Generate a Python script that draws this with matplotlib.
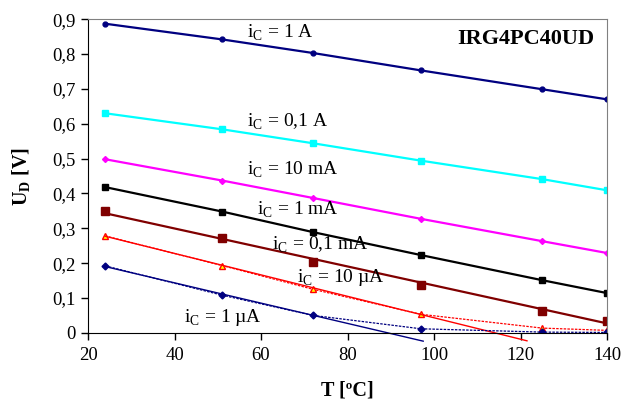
import matplotlib
matplotlib.use("Agg")
import matplotlib.pyplot as plt
from matplotlib.ticker import FuncFormatter

plt.rcParams['font.family'] = ['Liberation Serif', 'DejaVu Serif']
plt.rcParams['mathtext.fontset'] = 'custom'
plt.rcParams['mathtext.rm'] = 'Liberation Serif'
plt.rcParams['mathtext.bf'] = 'Liberation Serif:bold'

# temperatures [degC]
T = [24, 51, 72, 97, 125, 140]

# diode voltage U_D [V] for each collector current
u_1A = [0.887, 0.842, 0.803, 0.753, 0.699, 0.670]
u_100mA = [0.630, 0.584, 0.544, 0.494, 0.441, 0.409]
u_10mA = [0.498, 0.437, 0.387, 0.327, 0.263, 0.229]
u_1mA = [0.418, 0.348, 0.289, 0.223, 0.151, 0.114]
u_100uA = [0.350, 0.273, 0.204, 0.136, 0.063, 0.034]
u_10uA = [0.278, 0.193, 0.125, 0.053, 0.0135, 0.007]
u_1uA = [0.192, 0.108, 0.050, 0.0115, 0.002, 0.001]

# linear trend lines (end points)
trend_100uA_T = [24, 140]
trend_100uA_U = [0.343, 0.027]
trend_10uA_T = [24, 121.5]
trend_10uA_U = [0.277, -0.023]
trend_1uA_T = [24, 97.5]
trend_1uA_U = [0.190, -0.024]

fig = plt.figure(figsize=(6.22, 4.0), dpi=100)
ax = fig.add_axes([0.1415, 0.168, 0.8344, 0.784])

ax.plot(T, u_1A, color='#000080', lw=1.6, marker='o', ms=3.5)
ax.plot(T, u_100mA, color='#00FFFF', lw=1.6, marker='s', ms=4.5)
ax.plot(T, u_10mA, color='#FF00FF', lw=1.6, marker='D', ms=3)
ax.plot(T, u_1mA, color='black', lw=1.6, marker='s', ms=4.5)

ax.plot(trend_100uA_T, trend_100uA_U, color='#800000', lw=1.6)
ax.plot(T, u_100uA, ls='none', marker='s', ms=5.5, color='#800000')

ax.plot(T, u_10uA, color='#FF0000', lw=0.9, ls=(0, (2, 1)), marker='^',
        ms=5, mfc='#FFFF00', mec='#FF0000', mew=1)
ax.plot(trend_10uA_T, trend_10uA_U, color='#FF0000', lw=1.0, clip_on=False)

ax.plot(T, u_1uA, color='#000080', lw=0.9, ls=(0, (2, 1)), marker='D', ms=3.5)
ax.plot(trend_1uA_T, trend_1uA_U, color='#000080', lw=1.0, clip_on=False)

ax.set_xlim(20, 140)
ax.set_ylim(0, 0.9)
ax.set_xticks([20, 40, 60, 80, 100, 120, 140])
ax.set_yticks([0, 0.1, 0.2, 0.3, 0.4, 0.5, 0.6, 0.7, 0.8, 0.9])
ax.yaxis.set_major_formatter(FuncFormatter(
    lambda v, p: '0' if abs(v) < 1e-9 else ('%.1f' % v).replace('.', ',')))
ax.tick_params(labelsize=13.5, direction='out', length=5, width=1, color='black')
ax.tick_params(axis='x', pad=5)
ax.tick_params(axis='y', pad=4)

for s in ['top', 'right']:
    ax.spines[s].set_color('#808080')
for s in ['left', 'bottom']:
    ax.spines[s].set_color('black')

ax.set_xlabel('T [ºC]', fontsize=14.5, fontweight='bold', va='center')
ax.xaxis.set_label_coords(0.5, -0.183)
ax.set_ylabel(r'U$_\mathbf{D}$ [V]', fontsize=14.5, fontweight='bold', va='center')
ax.yaxis.set_label_coords(-0.127, 0.497)

fs = 14
ax.text(56.8, 0.861, r'i$_\mathregular{C}$ = 1 A', fontsize=fs, va='center')
ax.text(56.8, 0.605, r'i$_\mathregular{C}$ = 0,1 A', fontsize=fs, va='center')
ax.text(56.8, 0.468, r'i$_\mathregular{C}$ = 10 mA', fontsize=fs, va='center')
ax.text(59.0, 0.352, r'i$_\mathregular{C}$ = 1 mA', fontsize=fs, va='center')
ax.text(62.5, 0.252, r'i$_\mathregular{C}$ = 0,1 mA', fontsize=fs, va='center')
ax.text(68.3, 0.160, r'i$_\mathregular{C}$ = 10 µA', fontsize=fs, va='center')
ax.text(42.2, 0.045, r'i$_\mathregular{C}$ = 1 µA', fontsize=fs, va='center')
ax.text(137, 0.844, 'IRG4PC40UD', fontsize=16, fontweight='bold',
        ha='right', va='center')

fig.savefig('out.png', dpi=100)
